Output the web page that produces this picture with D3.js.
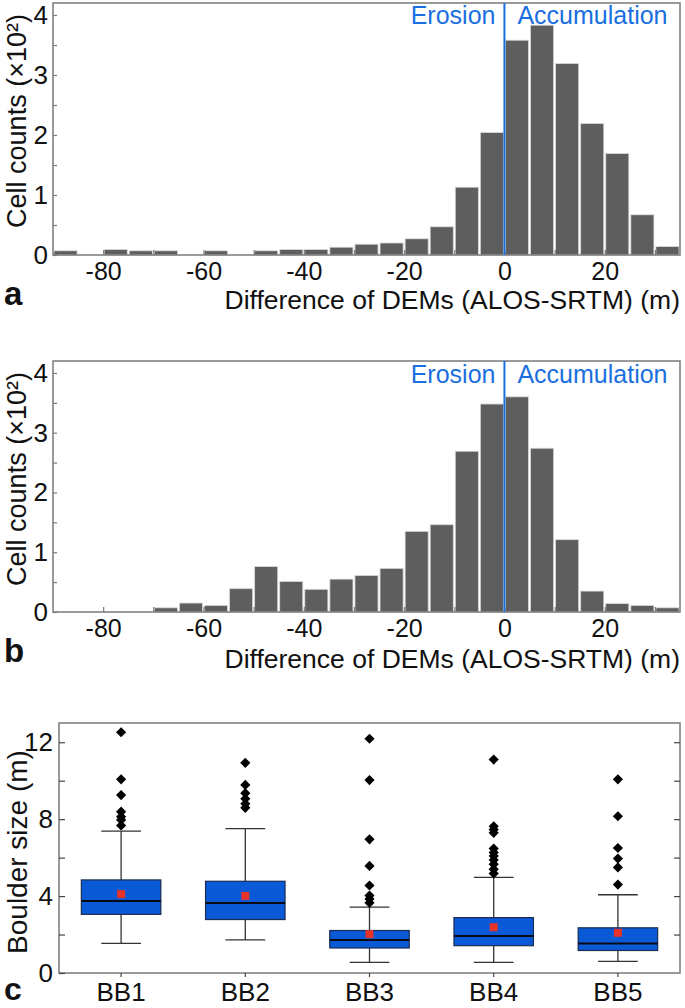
<!DOCTYPE html>
<html>
<head>
<meta charset="utf-8">
<script src="https://cdn.jsdelivr.net/npm/d3@7"></script>
<style>
  html, body { margin: 0; padding: 0; background: #fff; }
  svg { display: block; }
  text { font-family: "Liberation Sans", Arial, sans-serif; fill: #111; }
</style>
</head>
<body>
<svg id="chart" width="685" height="1008"></svg>
<script>
// ---------- DATA ----------
// Histogram bin starts (bin width 5 m), difference of DEMs (m)
const binStarts = [-90,-85,-80,-75,-70,-65,-60,-55,-50,-45,-40,-35,-30,-25,-20,-15,-10,-5,0,5,10,15,20,25,30];
const binWidth = 5;
// Cell counts (x10^2), panel a
const countsA = [0.07,0,0.09,0.07,0.07,0,0.07,0,0.07,0.09,0.09,0.13,0.18,0.20,0.27,0.47,1.13,2.04,3.58,3.83,3.19,2.19,1.69,0.67,0.14];
// Cell counts (x10^2), panel b
const countsB = [0,0,0,0,0.07,0.15,0.11,0.39,0.76,0.51,0.38,0.55,0.61,0.73,1.35,1.46,2.69,3.48,3.60,2.74,1.21,0.35,0.14,0.11,0.07];
const xTicksHist = [-80,-70,-60,-50,-40,-30,-20,-10,0,10,20,30];
const xTickLabelsHist = [-80,-60,-40,-20,0,20];
const yTicksHist = [0,0.5,1,1.5,2,2.5,3,3.5,4];
const yTickLabelsHist = [0,1,2,3,4];

// Box plots, panel c (boulder size, m)
const groups = ["BB1","BB2","BB3","BB4","BB5"];
const whiskerLow  = [1.54,1.72,0.55,0.55,0.60];
const q1          = [3.05,2.78,1.30,1.42,1.17];
const medians     = [3.74,3.64,1.72,1.92,1.54];
const q3          = [4.84,4.77,2.21,2.88,2.35];
const whiskerHigh = [7.38,7.51,3.43,4.97,4.07];
const means       = [4.10,4.01,2.02,2.38,2.09];
const outliers = [
  [12.52,10.07,9.25,8.39,8.13,7.96,7.67],
  [10.93,9.78,9.35,9.06,8.80,8.59],
  [12.18,10.03,6.95,5.57,4.55,4.03,3.85,3.65],
  [11.10,7.63,7.46,7.29,6.47,6.26,6.09,5.88,5.66,5.40,5.18],
  [10.07,8.15,6.50,5.95,5.49,4.60]
];
const yTicksBox = [0,2,4,6,8,10,12];
const yTickLabelsBox = [0,4,8,12];

// ---------- DRAW ----------
const svg = d3.select("#chart");
const frameColor = "#7a7a7a";
const barColor = "#5e5e5e";
const blue = "#1a6fe0";

function histogram(counts, cfg) {
  const g = svg.append("g");
  const x = d3.scaleLinear().domain([-90, 35]).range([53, 680]);
  const y = d3.scaleLinear().domain([0, 4.2]).range([cfg.bottom, cfg.top]);

  // bars
  g.selectAll("rect.bar").data(binStarts.map((b, i) => ({b, v: counts[i]})))
    .join("rect").attr("class", "bar")
    .attr("x", d => x(d.b) + 1)
    .attr("width", d => x(d.b + binWidth) - x(d.b) - 2)
    .attr("y", d => y(d.v))
    .attr("height", d => y(0) - y(d.v))
    .attr("fill", barColor)
    .attr("stroke", "#d8d8d8")
    .attr("stroke-width", 0.8);

  // frame
  g.append("rect").attr("x", x(-90)).attr("y", y(4.2))
    .attr("width", x(35) - x(-90)).attr("height", y(0) - y(4.2))
    .attr("fill", "none").attr("stroke", frameColor).attr("stroke-width", 1.5);

  // axes
  const xa = g.append("g").attr("transform", `translate(0,${y(0)})`)
    .call(d3.axisBottom(x).tickValues(xTicksHist).tickSize(-5).tickPadding(6)
      .tickFormat(d => xTickLabelsHist.includes(d) ? String(d) : ""));
  xa.select(".domain").remove();
  xa.selectAll("line").attr("stroke", frameColor).attr("stroke-width", 1.2);
  xa.selectAll("text").style("font-size", "25px").attr("fill", "#111")
    .attr("y", cfg.tickDy).attr("dy", 0);

  const ya = g.append("g").attr("transform", `translate(${x(-90)},0)`)
    .call(d3.axisLeft(y).tickValues(yTicksHist).tickSize(-4).tickPadding(5)
      .tickFormat(d => yTickLabelsHist.includes(d) ? String(d) : ""));
  ya.select(".domain").remove();
  ya.selectAll("line").attr("stroke", frameColor).attr("stroke-width", 1.2);
  ya.selectAll("text").style("font-size", "26px").attr("fill", "#111");

  // zero line
  g.append("line").attr("x1", x(0)).attr("x2", x(0))
    .attr("y1", y(4.2)).attr("y2", y(0))
    .attr("stroke", blue).attr("stroke-width", 2);

  g.append("text").attr("x", x(0) - 9).attr("y", cfg.annY)
    .attr("text-anchor", "end").style("font-size", "25px").style("fill", blue)
    .text("Erosion");
  g.append("text").attr("x", x(0) + 13).attr("y", cfg.annY)
    .attr("text-anchor", "start").style("font-size", "25px").style("fill", blue)
    .text("Accumulation");

  // axis titles
  g.append("text").attr("transform", `translate(26,${cfg.ylabY}) rotate(-90)`)
    .attr("text-anchor", "middle").style("font-size", "27px")
    .text("Cell counts (×10²)");
  g.append("text").attr("x", 680).attr("y", cfg.titleY)
    .attr("text-anchor", "end").style("font-size", "26.5px")
    .text("Difference of DEMs (ALOS-SRTM) (m)");
  g.append("text").attr("x", 4).attr("y", cfg.letterY)
    .style("font-size", "33px").style("font-weight", "bold")
    .text(cfg.letter);
}

histogram(countsA, {top: 3, bottom: 255, tickDy: 25, annY: 24, ylabY: 121, titleY: 309, letterY: 305, letter: "a"});
histogram(countsB, {top: 361, bottom: 612, tickDy: 25, annY: 383, ylabY: 479, titleY: 668, letterY: 662, letter: "b"});

// ---------- Box plot ----------
(function() {
  const g = svg.append("g");
  const left = 59, right = 680, top = 723, bottom = 973;
  const x = d3.scaleBand().domain(groups).range([left, right]).paddingInner(0).paddingOuter(0);
  const y = d3.scaleLinear().domain([0, 13]).range([bottom, top]);
  const bw = x.bandwidth() * 0.64;
  const cw = bw * 0.5;

  const data = groups.map((k, i) => ({k, lo: whiskerLow[i], q1: q1[i], med: medians[i], q3: q3[i], hi: whiskerHigh[i], mean: means[i], out: outliers[i]}));

  const box = g.selectAll("g.box").data(data).join("g").attr("class", "box")
    .attr("transform", d => `translate(${x(d.k) + x.bandwidth() / 2},0)`);

  // whiskers
  box.append("line").attr("x1", 0).attr("x2", 0).attr("y1", d => y(d.q3)).attr("y2", d => y(d.hi))
    .attr("stroke", "#333").attr("stroke-width", 1.3);
  box.append("line").attr("x1", 0).attr("x2", 0).attr("y1", d => y(d.q1)).attr("y2", d => y(d.lo))
    .attr("stroke", "#333").attr("stroke-width", 1.3);
  box.append("line").attr("x1", -cw / 2).attr("x2", cw / 2).attr("y1", d => y(d.hi)).attr("y2", d => y(d.hi))
    .attr("stroke", "#333").attr("stroke-width", 1.3);
  box.append("line").attr("x1", -cw / 2).attr("x2", cw / 2).attr("y1", d => y(d.lo)).attr("y2", d => y(d.lo))
    .attr("stroke", "#333").attr("stroke-width", 1.3);

  // box
  box.append("rect").attr("x", -bw / 2).attr("width", bw)
    .attr("y", d => y(d.q3)).attr("height", d => y(d.q1) - y(d.q3))
    .attr("fill", "#0a5ad8").attr("stroke", "#1c2c50").attr("stroke-width", 1.2);
  // median
  box.append("line").attr("x1", -bw / 2).attr("x2", bw / 2)
    .attr("y1", d => y(d.med)).attr("y2", d => y(d.med))
    .attr("stroke", "#0a0a14").attr("stroke-width", 2);
  // mean
  box.append("rect").attr("x", -4).attr("width", 8)
    .attr("y", d => y(d.mean) - 4).attr("height", 8)
    .attr("fill", "#e8332a");
  // outliers
  const diamond = d3.symbol().type(d3.symbolSquare).size(52)();
  box.selectAll("path.out").data(d => d.out).join("path").attr("class", "out")
    .attr("d", diamond)
    .attr("transform", v => `translate(0,${y(v)}) rotate(45)`)
    .attr("fill", "#000");

  // frame
  g.append("rect").attr("x", left).attr("y", top).attr("width", right - left).attr("height", bottom - top)
    .attr("fill", "none").attr("stroke", frameColor).attr("stroke-width", 1.5);

  const ya = g.append("g").attr("transform", `translate(${left},0)`)
    .call(d3.axisLeft(y).tickValues(yTicksBox).tickSize(-6).tickPadding(6)
      .tickFormat(d => yTickLabelsBox.includes(d) ? String(d) : ""));
  ya.select(".domain").remove();
  ya.selectAll("line").attr("stroke", "#444").attr("stroke-width", 1.2);
  ya.selectAll("text").style("font-size", "26px").attr("fill", "#111");

  const yr = g.append("g").attr("transform", `translate(${right},0)`)
    .call(d3.axisRight(y).tickValues(yTicksBox.filter(d => d > 0)).tickSize(-6).tickFormat(""));
  yr.select(".domain").remove();
  yr.selectAll("line").attr("stroke", "#444").attr("stroke-width", 1.2);

  const xa = g.append("g").attr("transform", `translate(0,${bottom})`)
    .call(d3.axisBottom(x).tickSize(4).tickPadding(4));
  xa.select(".domain").remove();
  xa.selectAll("line").attr("stroke", "#444").attr("stroke-width", 1.2);
  xa.selectAll("text").style("font-size", "26px").attr("fill", "#111").attr("y", 28).attr("dy", 0);

  g.append("text").attr("transform", `translate(27,852) rotate(-90)`)
    .attr("text-anchor", "middle").style("font-size", "28px")
    .text("Boulder size (m)");
  g.append("text").attr("x", 4).attr("y", 1000)
    .style("font-size", "32px").style("font-weight", "bold").text("c");
})();
</script>
</body>
</html>
